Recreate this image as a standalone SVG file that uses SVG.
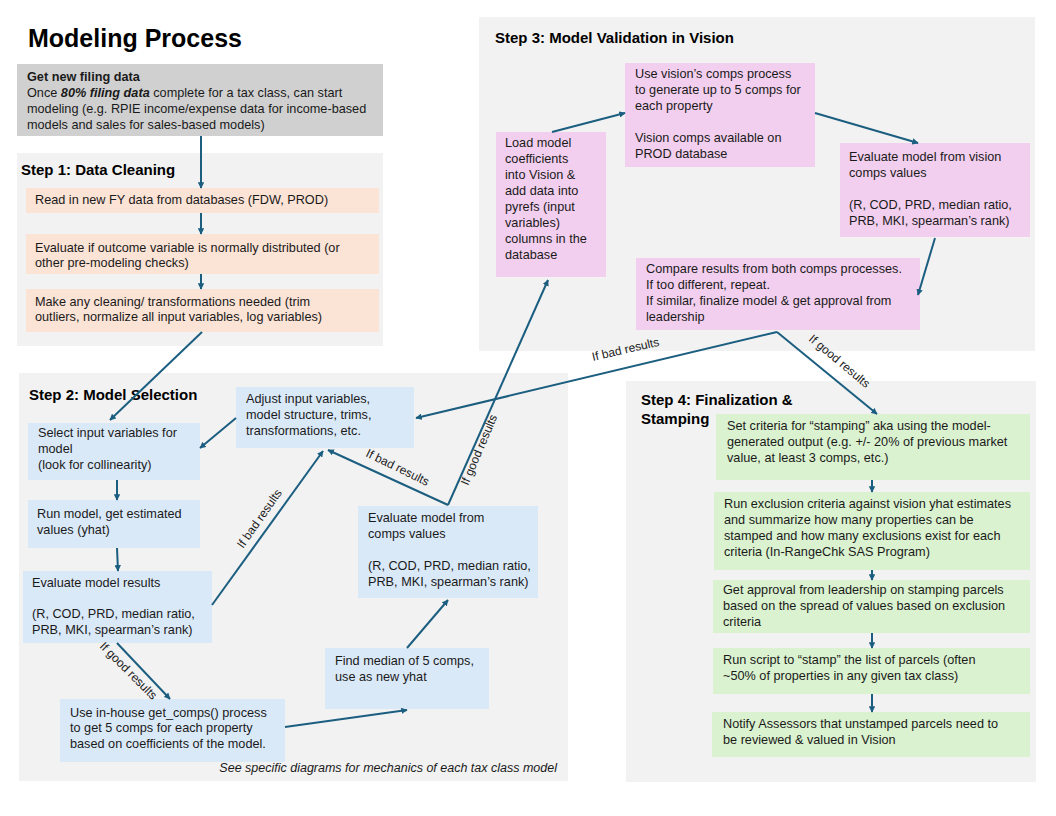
<svg xmlns="http://www.w3.org/2000/svg" width="1056" height="816" viewBox="0 0 1056 816">
<defs>
<marker id="ah" viewBox="0 0 10 10" refX="9" refY="5" markerWidth="3.2" markerHeight="3.2" orient="auto-start-reverse" markerUnits="strokeWidth">
<path d="M0,0 L10,5 L0,10 z" fill="#1b5e80"/>
</marker>
<style>
text{font-family:"Liberation Sans",Arial,sans-serif;font-size:12.7px;fill:#1a1a1a}
.h{font-weight:bold;font-size:15px;fill:#000}
.panel{fill:#f2f2f2}
.peach{fill:#fbe3d6}
.blue{fill:#dae9f8}
.pink{fill:#f2cfee}
.green{fill:#daf2d0}
.c{fill:none;stroke:#1b5e80;stroke-width:2;marker-end:url(#ah)}
.lbl{font-size:12px}
</style>
</defs>
<rect width="1056" height="816" fill="#fff"/>
<text x="28" y="47" style="font-size:25px;font-weight:bold;fill:#000">Modeling Process</text>

<g id="panels">
<rect class="panel" x="17" y="153" width="366" height="193"/>
<rect class="panel" x="19" y="373" width="549" height="408"/>
<rect class="panel" x="479" y="17" width="556" height="334"/>
<rect class="panel" x="626" y="381" width="410" height="401"/>
<text class="h" x="21" y="175">Step 1: Data Cleaning</text>
<text class="h" x="29" y="400">Step 2: Model Selection</text>
<text class="h" x="495" y="43">Step 3: Model Validation in Vision</text>
<text class="h" x="641" y="405">Step 4: Finalization &amp;</text>
<text class="h" x="641" y="424">Stamping</text>
<text x="557" y="772" text-anchor="end" style="font-style:italic;font-size:12.5px">See specific diagrams for mechanics of each tax class model</text>
</g>

<g id="n-filing">
<rect x="17" y="64" width="366" height="72" fill="#d0d0d0"/>
<text x="27" y="81" style="font-weight:bold">Get new filing data</text>
<text x="27" y="97">Once <tspan style="font-weight:bold;font-style:italic">80% filing data</tspan> complete for a tax class, can start</text>
<text x="27" y="113">modeling (e.g. RPIE income/expense data for income-based</text>
<text x="27" y="129">models and sales for sales-based models)</text>
</g>

<g id="n-read">
<rect class="peach" x="26" y="188" width="353" height="25"/>
<text x="35" y="204">Read in new FY data from databases (FDW, PROD)</text>
</g>
<g id="n-evaldist">
<rect class="peach" x="26" y="234" width="353" height="40"/>
<text x="35" y="252">Evaluate if outcome variable is normally distributed (or</text>
<text x="35" y="267">other pre-modeling checks)</text>
</g>
<g id="n-clean">
<rect class="peach" x="26" y="289" width="353" height="43"/>
<text x="35" y="306">Make any cleaning/  transformations needed (trim</text>
<text x="35" y="321">outliers, normalize all input variables, log variables)</text>
</g>

<g id="n-select">
<rect class="blue" x="28" y="423" width="172" height="57"/>
<text x="38" y="437">Select input variables for</text>
<text x="38" y="453">model</text>
<text x="38" y="469">(look for collinearity)</text>
</g>
<g id="n-run">
<rect class="blue" x="28" y="500" width="172" height="48"/>
<text x="37" y="518">Run model, get estimated</text>
<text x="37" y="534">values (yhat)</text>
</g>
<g id="n-evalres">
<rect class="blue" x="23" y="571" width="189" height="72"/>
<text x="32" y="587">Evaluate model results</text>
<text x="32" y="618">(R, COD, PRD, median ratio,</text>
<text x="32" y="634">PRB, MKI, spearman’s rank)</text>
</g>
<g id="n-getcomps">
<rect class="blue" x="60" y="699" width="225" height="63"/>
<text x="70" y="717">Use in-house get_comps() process</text>
<text x="70" y="732">to get 5 comps for each property</text>
<text x="70" y="748">based on coefficients of the model.</text>
</g>
<g id="n-median">
<rect class="blue" x="325" y="648" width="164" height="61"/>
<text x="335" y="665">Find median of 5 comps,</text>
<text x="335" y="681">use as new yhat</text>
</g>
<g id="n-evalcomps">
<rect class="blue" x="358" y="506" width="180" height="92"/>
<text x="368" y="522">Evaluate model from</text>
<text x="368" y="538">comps values</text>
<text x="368" y="570">(R, COD, PRD, median ratio,</text>
<text x="368" y="586">PRB, MKI, spearman’s rank)</text>
</g>
<g id="n-adjust">
<rect class="blue" x="236" y="387" width="178" height="61"/>
<text x="246" y="403">Adjust input variables,</text>
<text x="246" y="419">model structure, trims,</text>
<text x="246" y="435">transformations, etc.</text>
</g>

<g id="n-load">
<rect class="pink" x="496" y="132" width="110" height="145"/>
<text x="505" y="147">Load model</text>
<text x="505" y="163">coefficients</text>
<text x="505" y="179">into Vision &amp;</text>
<text x="505" y="195">add data into</text>
<text x="505" y="211">pyrefs (input</text>
<text x="505" y="227">variables)</text>
<text x="505" y="243">columns in the</text>
<text x="505" y="259">database</text>
</g>
<g id="n-visioncomps">
<rect class="pink" x="625" y="63" width="190" height="104"/>
<text x="635" y="78">Use vision’s comps process</text>
<text x="635" y="94">to generate up to 5 comps for</text>
<text x="635" y="110">each property</text>
<text x="635" y="142">Vision comps available on</text>
<text x="635" y="158">PROD database</text>
</g>
<g id="n-evalvision">
<rect class="pink" x="840" y="143" width="190" height="94"/>
<text x="849" y="161">Evaluate model from vision</text>
<text x="849" y="177">comps values</text>
<text x="849" y="209">(R, COD, PRD, median ratio,</text>
<text x="849" y="225">PRB, MKI, spearman’s rank)</text>
</g>
<g id="n-compare">
<rect class="pink" x="636" y="258" width="284" height="72"/>
<text x="646" y="273">Compare results from both comps processes.</text>
<text x="646" y="289">If too different, repeat.</text>
<text x="646" y="305">If similar, finalize model &amp; get approval from</text>
<text x="646" y="321">leadership</text>
</g>

<g id="n-criteria">
<rect class="green" x="716" y="414" width="314" height="66"/>
<text x="727" y="430">Set criteria for “stamping” aka using the model-</text>
<text x="727" y="446">generated output (e.g. +/- 20% of previous market</text>
<text x="727" y="462">value, at least 3 comps, etc.)</text>
</g>
<g id="n-exclusion">
<rect class="green" x="714" y="492" width="316" height="78"/>
<text x="724" y="508">Run exclusion criteria against vision yhat estimates</text>
<text x="724" y="524">and summarize how many properties can be</text>
<text x="724" y="540">stamped and how many exclusions exist for each</text>
<text x="724" y="556">criteria (In-RangeChk SAS Program)</text>
</g>
<g id="n-approval">
<rect class="green" x="713" y="580" width="317" height="53"/>
<text x="723" y="594">Get approval from leadership on stamping parcels</text>
<text x="723" y="610">based on the spread of values based on exclusion</text>
<text x="723" y="626">criteria</text>
</g>
<g id="n-stamp">
<rect class="green" x="713" y="648" width="317" height="46"/>
<text x="723" y="664">Run script to “stamp” the list of parcels (often</text>
<text x="723" y="680">~50% of properties in any given tax class)</text>
</g>
<g id="n-notify">
<rect class="green" x="712" y="712" width="318" height="45"/>
<text x="723" y="728">Notify Assessors that unstamped parcels need to</text>
<text x="723" y="744">be reviewed &amp; valued in Vision</text>
</g>

<g id="connectors">
<path class="c" d="M201,136 L201,188"/>
<path class="c" d="M201,213 L201,234"/>
<path class="c" d="M201,274 L201,289"/>
<path class="c" d="M202,332 L110,420"/>
<path class="c" d="M117,480 L117,500"/>
<path class="c" d="M117,548 L118,571"/>
<path class="c" d="M212,605 L323,451"/>
<path class="c" d="M117,643 L170,699"/>
<path class="c" d="M285,727 L407,710"/>
<path class="c" d="M407,648 L448,600"/>
<path class="c" d="M448,505 L328,450"/>
<path class="c" d="M448,505 L548,280"/>
<path class="c" d="M236,418 L200,448"/>
<path class="c" d="M552,132 L625,113"/>
<path class="c" d="M815,113 L918,143"/>
<path class="c" d="M935,238 L918,295"/>
<path class="c" d="M777,332 L416,418"/>
<path class="c" d="M777,332 L877,414"/>
<path class="c" d="M872,480 L872,492"/>
<path class="c" d="M872,570 L872,580"/>
<path class="c" d="M872,633 L872,648"/>
<path class="c" d="M872,694 L872,712"/>
<text class="lbl" transform="translate(243,549) rotate(-55)">If bad results</text>
<text class="lbl" transform="translate(99,647) rotate(45)">If good results</text>
<text class="lbl" transform="translate(365,456) rotate(26)">If bad results</text>
<text class="lbl" transform="translate(468,486) rotate(-67)">If good results</text>
<text class="lbl" transform="translate(593,361) rotate(-13)">If bad results</text>
<text class="lbl" transform="translate(808,340) rotate(40)">If good results</text>
</g>
</svg>
